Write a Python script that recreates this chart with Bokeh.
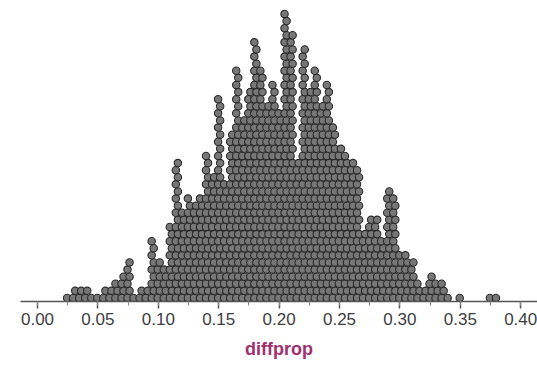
from bokeh.plotting import figure
from bokeh.models import ColumnDataSource, Range1d, SingleIntervalTicker, NumeralTickFormatter
from bokeh.embed import file_html
from bokeh.resources import INLINE

# distinct diffprop values (column centres) and number of stacked dots at each
diffprop_values = [0.025, 0.030, 0.035, 0.040, 0.045, 0.050, 0.055, 0.060, 0.065, 0.070,
                   0.075, 0.080, 0.085, 0.090, 0.095, 0.100, 0.105, 0.110, 0.115, 0.120,
                   0.125, 0.130, 0.135, 0.140, 0.145, 0.150, 0.155, 0.160, 0.165, 0.170,
                   0.175, 0.180, 0.185, 0.190, 0.195, 0.200, 0.205, 0.210, 0.215, 0.220,
                   0.225, 0.230, 0.235, 0.240, 0.245, 0.250, 0.255, 0.260, 0.265, 0.270,
                   0.275, 0.280, 0.285, 0.290, 0.295, 0.300, 0.305, 0.310, 0.315, 0.320,
                   0.325, 0.330, 0.335, 0.340, 0.350, 0.375, 0.380]
dot_counts = [1, 2, 2, 2, 1, 1, 2, 2, 3, 4,
              6, 1, 2, 2, 9, 6, 5, 11, 20, 13,
              15, 14, 15, 21, 18, 29, 17, 24, 33, 26,
              30, 37, 33, 28, 31, 27, 41, 38, 20, 36,
              30, 33, 28, 31, 25, 22, 21, 20, 19, 10,
              12, 12, 9, 16, 15, 7, 7, 6, 3, 2,
              4, 3, 3, 1, 1, 1, 1]

tick_step = 0.05
x_label = "diffprop"

# build the stacked dot positions (row index = stack level)
xs, ys = [], []
for v, c in zip(diffprop_values, dot_counts):
    for k in range(c):
        xs.append(v + (0.0012 if k % 2 else -0.0005))
        ys.append(k + 0.5)
src = ColumnDataSource(dict(x=xs, y=ys))

W, H = 537, 368
p = figure(width=W, height=H, output_backend="svg", toolbar_location=None,
           x_range=Range1d(-0.01407, 0.4139), y_range=Range1d(0, 301 / 7.1),
           min_border_left=20, min_border_right=0, min_border_top=0, min_border_bottom=67)
p.frame_width = 517
p.frame_height = 301

p.scatter("x", "y", source=src, size=7.4, marker="circle",
          fill_color="#777777", line_color="#2a2a2a", line_width=1.1)

p.yaxis.visible = False
p.xgrid.visible = False
p.ygrid.visible = False
p.outline_line_color = None
p.background_fill_color = "white"
p.border_fill_color = "white"

ax = p.xaxis[0]
ax.ticker = SingleIntervalTicker(interval=tick_step, num_minor_ticks=2)
ax.formatter = NumeralTickFormatter(format="0.00")
ax.axis_line_color = "#555555"
ax.axis_line_width = 1.6
ax.major_tick_line_color = "#555555"
ax.major_tick_line_width = 1.5
ax.major_tick_out = 7
ax.major_tick_in = 0
ax.minor_tick_line_color = "#888888"
ax.minor_tick_out = 4
ax.minor_tick_in = 0
ax.major_label_text_font = "Liberation Sans"
ax.major_label_text_font_size = "17px"
ax.major_label_text_color = "#3d3d3d"
ax.major_label_standoff = 4
ax.axis_label = x_label
ax.axis_label_text_font = "Liberation Sans"
ax.axis_label_text_font_style = "bold"
ax.axis_label_text_font_size = "18px"
ax.axis_label_text_color = "#a0306e"
ax.axis_label_standoff = 11

open("out.html", "w").write(file_html(p, INLINE))
